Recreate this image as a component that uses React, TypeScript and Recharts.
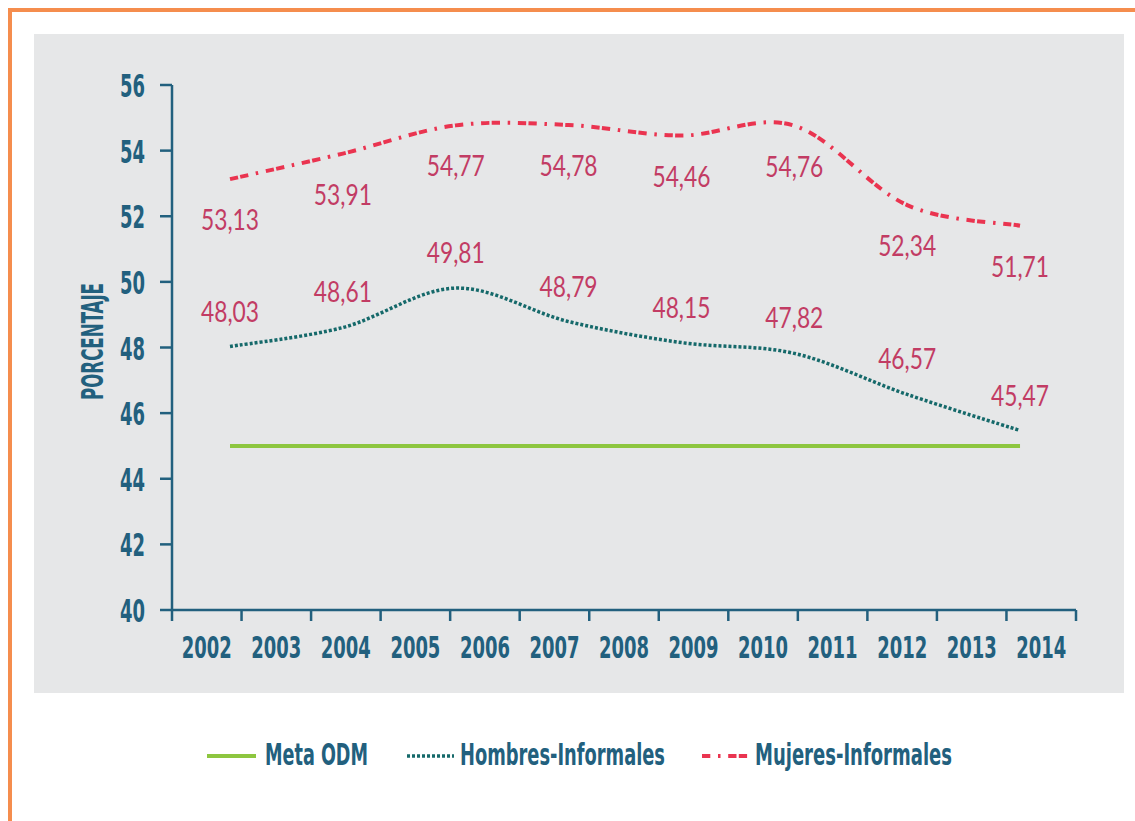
import React from 'react';
import { LineChart, Line, XAxis, YAxis, LabelList } from 'recharts';

// ---- data ----
const yearLabels = ['2002', '2003', '2004', '2005', '2006', '2007', '2008', '2009', '2010', '2011', '2012', '2013', '2014'];
const mujeresInformales = [53.13, 53.91, 54.77, 54.78, 54.46, 54.76, 52.34, 51.71];
const hombresInformales = [48.03, 48.61, 49.81, 48.79, 48.15, 47.82, 46.57, 45.47];
const metaODM = [45, 45, 45, 45, 45, 45, 45, 45];
const yTicks = [40, 42, 44, 46, 48, 50, 52, 54, 56];

const data = mujeresInformales.map((m, i) => ({
  i,
  mujeres: m,
  hombres: hombresInformales[i],
  meta: metaODM[i],
}));
const yearTicks = yearLabels.map((_, i) => i).concat([yearLabels.length]);

// ---- style ----
const AXIS = '#22607e';
const LABEL = '#c23c64';
const RED = '#ea3450';
const TEAL = '#15696a';
const GREEN = '#8dc63f';
const COND = "'Liberation Sans Narrow', 'DejaVu Sans Condensed', 'Arial Narrow', sans-serif";
const LIGHT = "Lato, 'Open Sans', 'Noto Sans', sans-serif";
const PLOT_LEFT = 172;
const PLOT_RIGHT = 1076;
const SLOT = (PLOT_RIGHT - PLOT_LEFT) / yearLabels.length;
const RED_DASH = '8.3 2.3 8.3 7.7 2.5 7.7';
const TEAL_DOT = '3 2';

const fmt = (v: number) => v.toFixed(2).replace('.', ',');

// Catmull-Rom style smoothing (similar to spreadsheet smoothed lines)
function smoothCurve(context: any) {
  let pts: number[][] = [];
  return {
    areaStart() {},
    areaEnd() {},
    lineStart() {
      pts = [];
    },
    point(x: number, y: number) {
      pts.push([+x, +y]);
    },
    lineEnd() {
      const n = pts.length;
      if (!n) return;
      context.moveTo(pts[0][0], pts[0][1]);
      for (let k = 0; k < n - 1; k++) {
        const p0 = pts[k - 1] || pts[k];
        const p1 = pts[k];
        const p2 = pts[k + 1];
        const p3 = pts[k + 2] || p2;
        context.bezierCurveTo(
          p1[0] + (p2[0] - p0[0]) / 6,
          p1[1] + (p2[1] - p0[1]) / 6,
          p2[0] - (p3[0] - p1[0]) / 6,
          p2[1] - (p3[1] - p1[1]) / 6,
          p2[0],
          p2[1]
        );
      }
    },
  };
}

const YearTick = (props: any) => {
  const { x, y, payload } = props;
  const label = yearLabels[payload.value];
  if (!label) return null;
  return (
    <text
      x={x + SLOT / 2}
      y={y + 35}
      textAnchor="middle"
      fill={AXIS}
      fontFamily={COND}
      fontWeight="bold"
      fontSize={30}
      textLength={50}
      lengthAdjust="spacingAndGlyphs"
    >
      {label}
    </text>
  );
};

const ValueTick = (props: any) => {
  const { x, y, payload } = props;
  return (
    <text
      x={x}
      y={y + 12}
      textAnchor="end"
      fill={AXIS}
      fontFamily={COND}
      fontWeight="bold"
      fontSize={32}
      textLength={25}
      lengthAdjust="spacingAndGlyphs"
    >
      {String(payload.value)}
    </text>
  );
};

const makeLabel = (dy: number) => (p: any) => (
  <text
    x={p.x}
    y={p.y + dy}
    textAnchor="middle"
    fill={LABEL}
    fontFamily={LIGHT}
    fontWeight={400}
    fontSize={28}
    textLength={58}
    lengthAdjust="spacingAndGlyphs"
  >
    {fmt(Number(p.value))}
  </text>
);

const YLabel = (p: any) => {
  const vb = p.viewBox || {};
  const cx = 103;
  const cy = (vb.y ?? 85) + (vb.height ?? 525) / 2 - 6;
  return (
    <text
      x={cx}
      y={cy}
      transform={`rotate(-90 ${cx} ${cy})`}
      textAnchor="middle"
      fill={AXIS}
      fontFamily={COND}
      fontWeight="bold"
      fontSize={30}
      textLength={117}
      lengthAdjust="spacingAndGlyphs"
    >
      PORCENTAJE
    </text>
  );
};

const legendItems = [
  { name: 'Meta ODM', color: GREEN, dash: undefined as string | undefined, width: 4, x1: 207, x2: 256, tx: 265, tl: 103, offset: 0 },
  { name: 'Hombres-Informales', color: TEAL, dash: TEAL_DOT, width: 3.5, x1: 407, x2: 454, tx: 460, tl: 205, offset: 0 },
  { name: 'Mujeres-Informales', color: RED, dash: RED_DASH, width: 4, x1: 702, x2: 748, tx: 755, tl: 197, offset: 10.6 },
];

export default function App() {
  return (
    <div style={{ position: 'absolute', left: 0, top: 0, width: 1135, height: 821, background: '#fff', overflow: 'hidden' }}>
      <div style={{ position: 'absolute', left: 8, top: 8, width: 4, height: 813, background: '#f58d4e' }} />
      <div style={{ position: 'absolute', left: 8, top: 8, width: 1127, height: 4, background: '#f58d4e' }} />
      <div style={{ position: 'absolute', left: 34, top: 34, width: 1090, height: 659, background: '#e6e7e8' }} />
      <div style={{ position: 'absolute', left: 0, top: 0 }}>
        <LineChart
          width={1135}
          height={821}
          data={data}
          margin={{ top: 85, right: 1135 - PLOT_RIGHT, bottom: 161, left: 72 }}
        >
          <XAxis
            xAxisId="pts"
            dataKey="i"
            type="number"
            domain={[-0.514, 7.496]}
            allowDataOverflow
            height={0}
            hide
          />
          <XAxis
            xAxisId="years"
            dataKey="i"
            type="number"
            domain={[0, yearLabels.length]}
            allowDataOverflow
            ticks={yearTicks}
            interval={0}
            height={50}
            tickSize={11}
            tickMargin={2}
            axisLine={{ stroke: AXIS, strokeWidth: 2.5 }}
            tickLine={{ stroke: AXIS, strokeWidth: 2.5 }}
            tick={<YearTick />}
          />
          <YAxis
            type="number"
            domain={[40, 56]}
            ticks={yTicks}
            interval={0}
            width={100}
            tickSize={12}
            tickMargin={15}
            axisLine={{ stroke: AXIS, strokeWidth: 2.5 }}
            tickLine={{ stroke: AXIS, strokeWidth: 2.5 }}
            tick={<ValueTick />}
            label={<YLabel />}
          />
          <Line
            xAxisId="pts"
            dataKey="meta"
            type="linear"
            stroke={GREEN}
            strokeWidth={4}
            dot={false}
            activeDot={false}
            isAnimationActive={false}
          />
          <Line
            xAxisId="pts"
            dataKey="hombres"
            type={smoothCurve as any}
            stroke={TEAL}
            strokeWidth={3.5}
            strokeDasharray={TEAL_DOT}
            dot={false}
            activeDot={false}
            isAnimationActive={false}
          >
            <LabelList dataKey="hombres" content={makeLabel(-25)} />
          </Line>
          <Line
            xAxisId="pts"
            dataKey="mujeres"
            type={smoothCurve as any}
            stroke={RED}
            strokeWidth={4}
            strokeDasharray={RED_DASH}
            dot={false}
            activeDot={false}
            isAnimationActive={false}
          >
            <LabelList dataKey="mujeres" content={makeLabel(51)} />
          </Line>
        </LineChart>
      </div>
      <svg style={{ position: 'absolute', left: 0, top: 0 }} width={1135} height={821} pointerEvents="none">
        {legendItems.map((it) => (
          <g key={it.name}>
            <line
              x1={it.x1}
              x2={it.x2}
              y1={756}
              y2={756}
              stroke={it.color}
              strokeWidth={it.width}
              strokeDasharray={it.dash}
              strokeDashoffset={it.offset}
            />
            <text
              x={it.tx}
              y={765}
              fill={AXIS}
              fontFamily={COND}
              fontWeight="bold"
              fontSize={30}
              textLength={it.tl}
              lengthAdjust="spacingAndGlyphs"
            >
              {it.name}
            </text>
          </g>
        ))}
      </svg>
    </div>
  );
}
